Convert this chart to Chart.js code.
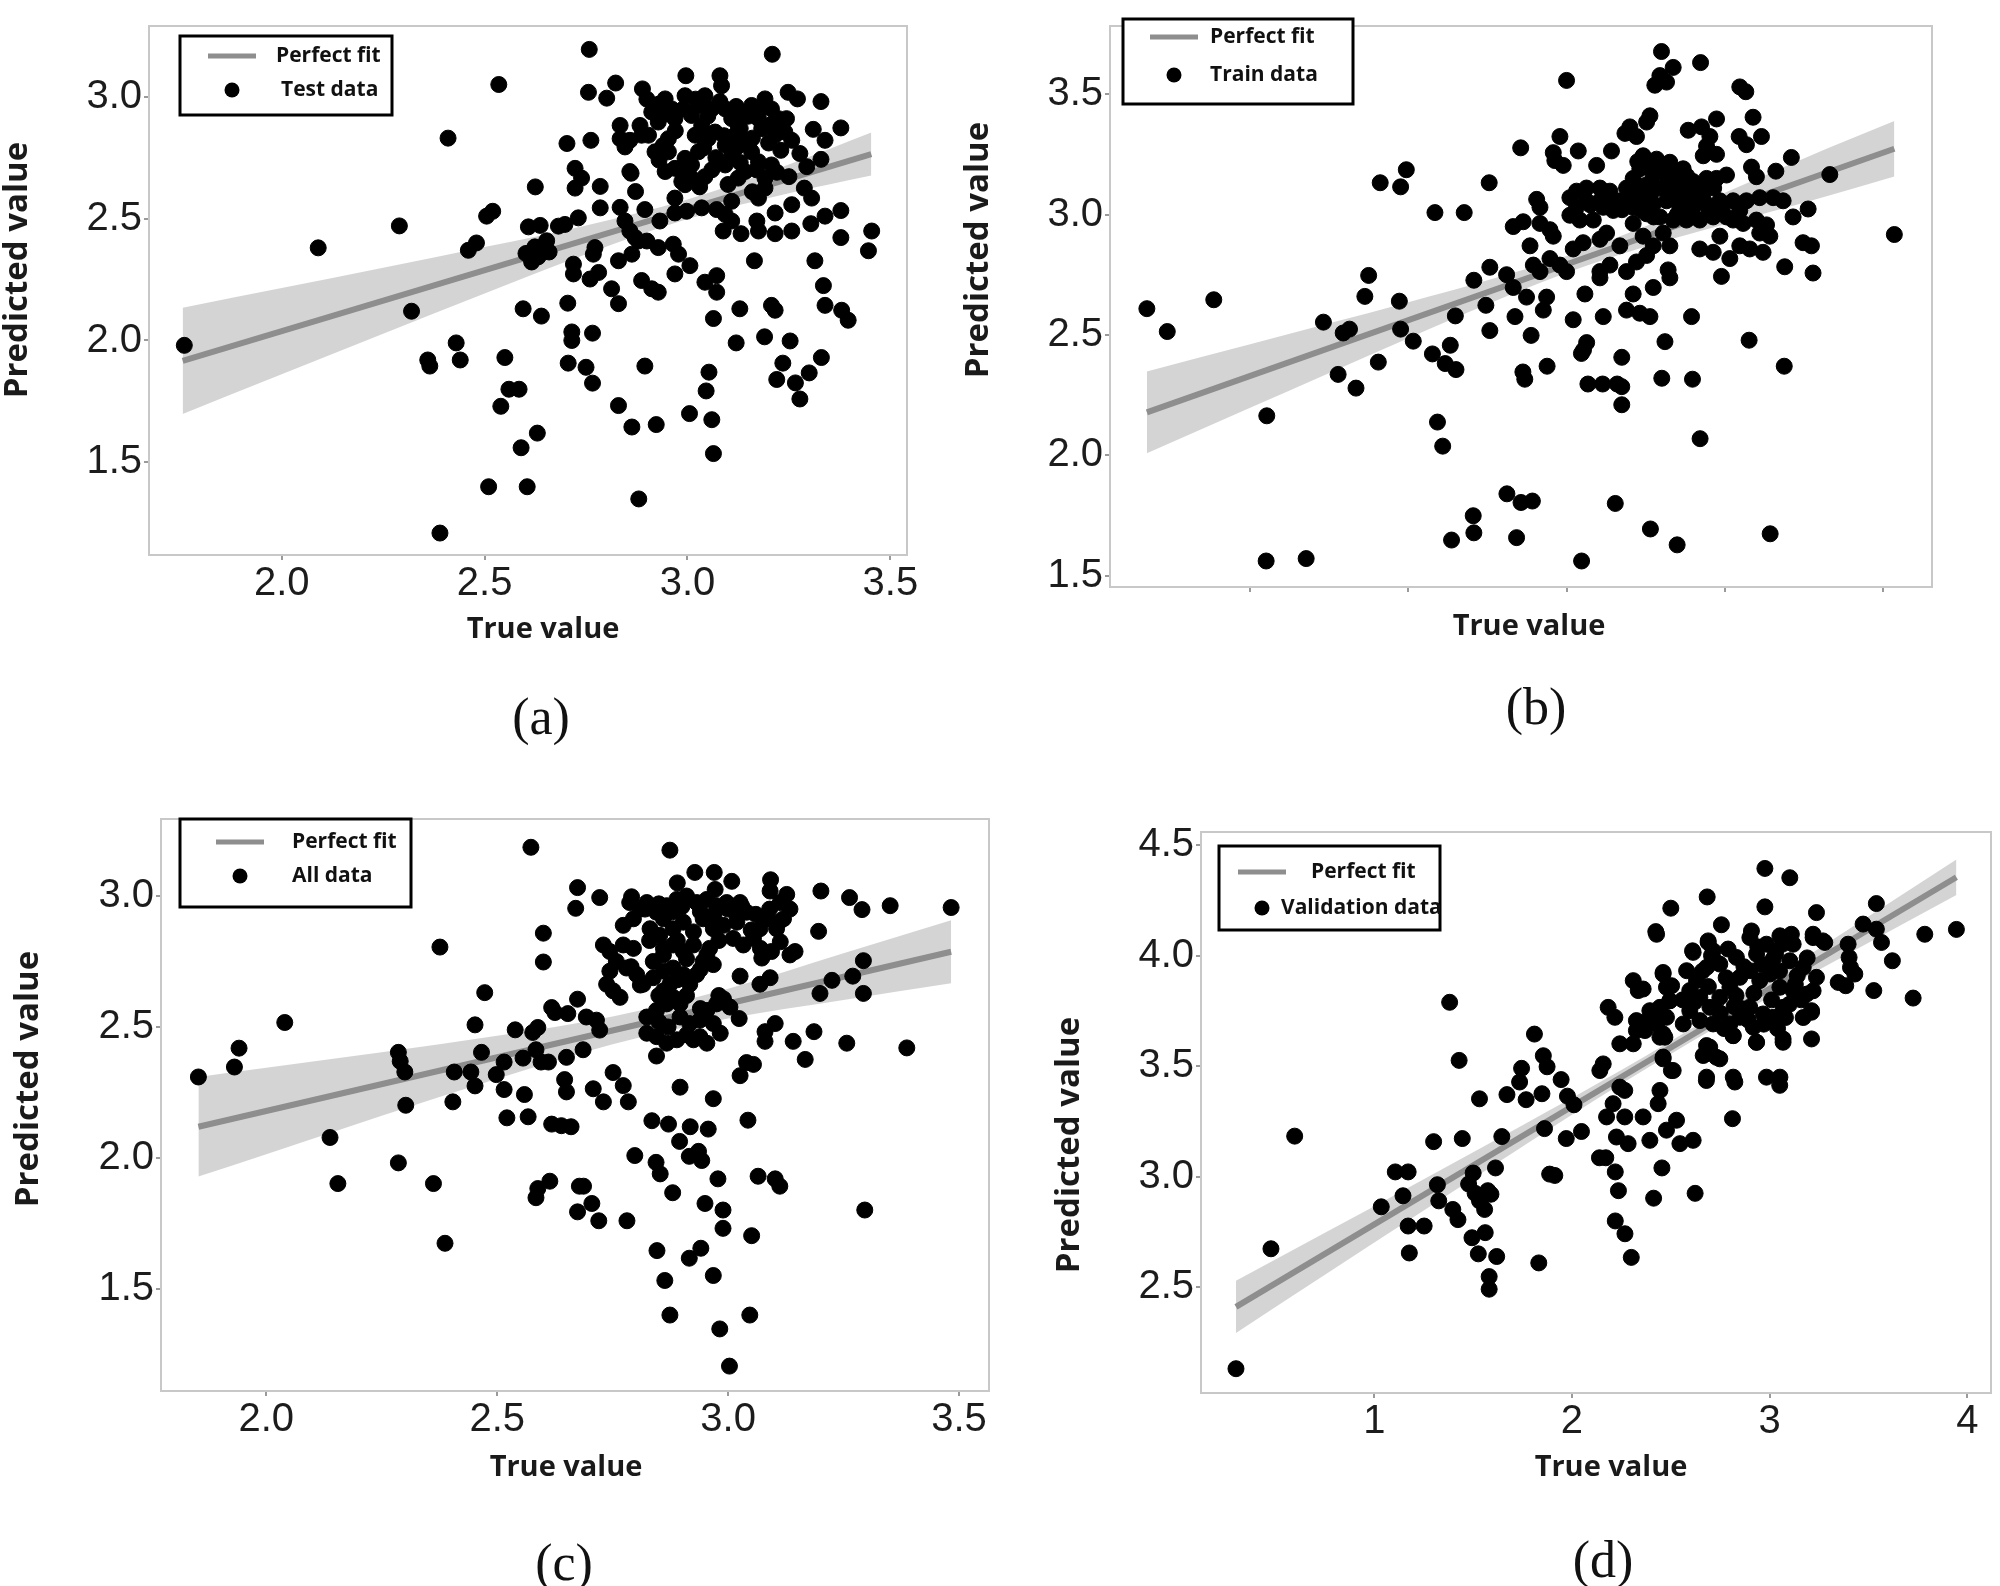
<!DOCTYPE html>
<html>
<head>
<meta charset="utf-8">
<title>Predicted vs true value</title>
<script src="https://cdn.jsdelivr.net/npm/chart.js@4.4.1/dist/chart.umd.min.js"></script>
<style>
    body { margin: 0; background: #fff; }
    #page { position: relative; width: 2000px; height: 1586px; overflow: hidden; }
    .panel { position: absolute; }
    .cap {
        position: absolute;
        font-family: "Liberation Serif", "Times New Roman", serif;
        font-size: 52px;
        color: #111;
        transform: translate(-50%, -50%);
    }
</style>
</head>
<body>
<div id="page">
    <canvas class="panel" id="chart-a" width="950" height="793" style="left:0;top:0"></canvas>
    <canvas class="panel" id="chart-b" width="1050" height="793" style="left:950px;top:0"></canvas>
    <canvas class="panel" id="chart-c" width="1000" height="793" style="left:0;top:793px"></canvas>
    <canvas class="panel" id="chart-d" width="1000" height="793" style="left:1000px;top:793px"></canvas>
    <div class="cap" style="left:541px;top:716px">(a)</div>
    <div class="cap" style="left:1536px;top:706px">(b)</div>
    <div class="cap" style="left:564px;top:1562px">(c)</div>
    <div class="cap" style="left:1603px;top:1559px">(d)</div>
</div>
<script>
// (a) Test data  [true, predicted]
const testData = [
    [1.76,1.98],[2.09,2.38],[2.29,2.47],[2.32,2.12],[2.41,2.83],[2.36,1.92],[2.365,1.895],[2.43,1.99],[2.44,1.92],[2.46,2.37],
    [2.48,2.40],[2.505,2.51],[2.52,2.53],[2.535,3.05],[2.55,1.93],[2.56,1.80],[2.585,1.80],[2.54,1.73],[2.51,1.40],[2.605,1.40],
    [2.59,1.56],[2.63,1.62],[2.39,1.21],[2.88,1.35],[2.595,2.13],[2.64,2.10],[2.625,2.63],
    [2.602,2.357],[2.616,2.322],[2.624,2.384],[2.637,2.472],[2.653,2.409],[2.659,2.363],[2.608,2.466],[2.632,2.343],
    [2.715,2.035],[2.715,2.0],[2.706,1.907],[2.75,1.89],[2.766,1.825],[2.766,2.03],[2.83,1.733],[2.863,1.645],[2.923,1.655],[2.895,1.895],
    [3.005,1.70],[3.06,1.675],[3.064,1.536],[3.053,1.87],[3.046,1.793],[3.12,1.99],[3.19,2.015],[3.22,1.84],[3.235,1.907],[3.253,1.998],
    [3.266,1.826],[3.277,1.76],[3.30,1.867],[3.33,1.93],
    [2.758,3.194],[3.209,3.174],[2.756,3.018],[2.823,3.056],[2.801,2.994],[2.889,3.032],[2.996,3.086],[3.080,3.086],[3.084,3.045],[3.248,3.018],
    [3.271,2.991],[3.329,2.98],[3.378,2.872],[3.310,2.866],[3.339,2.821],[3.329,2.743],[3.294,2.713],[3.277,2.767],[3.257,2.821],[3.244,2.910],
    [3.25,2.672],[3.288,2.625],[3.306,2.584],[3.378,2.533],[3.339,2.51],[3.304,2.479],[3.257,2.557],[3.257,2.449],[3.216,2.523],[3.216,2.438],
    [3.175,2.449],[3.171,2.49],[3.132,2.438],[3.109,2.49],[3.088,2.449],[3.109,2.571],[3.035,2.544],[3.072,2.537],[3.093,2.517],[2.969,2.523],
    [2.998,2.53],[2.932,2.49],[2.895,2.537],[2.872,2.611],[2.861,2.686],[2.834,2.546],[2.846,2.49],[2.858,2.449],[2.871,2.422],[2.9,2.408],
    [2.928,2.381],[2.965,2.395],[2.978,2.354],[3.006,2.307],[2.969,2.273],[3.043,2.239],[3.072,2.266],[3.072,2.198],[2.83,2.327],[2.863,2.354],
    [2.879,2.408],[2.887,2.246],[2.912,2.212],[2.928,2.198],[2.813,2.212],[2.83,2.151],[2.772,2.381],[2.768,2.354],[2.719,2.313],[2.719,2.273],
    [2.76,2.252],[2.781,2.279],[2.705,2.153],[2.682,2.469],[2.698,2.476],[2.731,2.503],[2.785,2.544],[2.785,2.632],[2.723,2.706],[2.739,2.666],
    [2.723,2.625],[2.703,2.808],[2.762,2.821],[2.834,2.882],[2.834,2.828],[2.846,2.794],[2.858,2.821],[2.858,2.693],[2.883,2.882],[3.454,2.449],
    [3.446,2.368],[3.378,2.422],[3.314,2.327],[3.335,2.225],[3.339,2.144],[3.38,2.124],[3.396,2.083],[3.165,2.327],[3.207,2.144],[3.216,2.124],
    [3.129,2.13],[3.064,2.09],
    [2.920,2.964],[2.912,2.937],[2.945,2.991],[2.961,2.950],[2.928,2.896],[2.904,2.842],[2.920,2.774],[2.953,2.828],[2.969,2.910],[2.994,3.004],
    [3.027,2.964],[3.010,2.923],[3.043,3.004],[3.060,2.950],[3.035,2.882],[3.068,2.855],[3.051,2.828],[3.019,2.842],[3.093,2.950],[3.109,2.910],
    [3.125,2.882],[3.117,2.842],[3.142,2.937],[3.158,2.964],[3.175,2.910],[3.191,2.991],[3.207,2.950],[3.224,2.910],[3.240,2.855],[3.216,2.842],
    [3.183,2.869],[2.945,2.693],[2.969,2.706],[2.994,2.747],[3.010,2.720],[2.986,2.652],[3.010,2.666],[3.043,2.672],[3.027,2.774],[3.093,2.720],
    [3.109,2.761],[3.125,2.666],[3.142,2.693],[3.158,2.774],[3.175,2.733],[3.191,2.666],[3.207,2.720],[3.191,2.625],[3.175,2.584],[3.134,2.828],
    [3.150,2.801],[3.093,2.801],[2.953,2.774],[2.887,2.842],[2.969,2.584],[2.994,2.639],
    [2.93,2.97],[2.95,2.93],[2.99,2.95],[3.02,2.99],[3.05,2.92],[3.08,2.98],[3.12,2.96],[3.15,2.92],[3.18,2.95],[3.21,2.89],
    [3.13,2.87],[3.09,2.84],[3.04,2.79],[2.97,2.86],[2.94,2.8],[3.07,2.75],[3.12,2.79],[3.16,2.83],[3.2,2.81],[3.23,2.78],
    [3.17,2.7],[3.13,2.73],[3.06,2.7],[2.99,2.69],[2.93,2.74],[3.03,2.63],[3.1,2.64],[3.16,2.61],[3.22,2.69],[2.9,2.99]
]
const testFitX = [1.756, 3.453]
const testFitY = [1.916, 2.764]
const testBandX = [1.756, 2.0, 2.25, 2.5, 2.75, 3.0, 3.25, 3.453]
const testBandUpper = [2.134, 2.215, 2.298, 2.383, 2.472, 2.578, 2.722, 2.853]
const testBandLower = [1.698, 1.861, 2.028, 2.193, 2.354, 2.498, 2.604, 2.677]
const testXTicks = [2.0, 2.5, 3.0, 3.5]
const testYTicks = [1.5, 2.0, 2.5, 3.0]

// (b) Train data (x axis carries tick marks only, no labels)
const trainData = [
    [0.347,2.609],[0.476,2.514],[0.77,2.646],[1.105,2.164],[1.101,1.561],[1.354,1.571],[1.463,2.553],[1.556,2.336],[1.588,2.508],[1.628,2.524],
    [1.669,2.279],[1.725,2.66],[1.749,2.747],[1.81,2.387],[1.822,3.132],[1.951,3.115],[1.987,3.186],[1.943,2.64],[1.951,2.524],[2.031,2.474],
    [2.168,3.008],[2.152,2.421],[2.233,2.381],[2.301,2.356],[2.265,2.457],[2.297,2.579],[2.184,2.138],[2.217,2.038],[2.353,3.008],[2.414,2.727],
    [2.515,2.781],[2.49,2.623],[2.515,2.518],[2.511,3.132],[2.273,1.648],[2.41,1.749],[2.414,1.678],[2.623,1.84],[2.712,1.804],[2.784,1.81],
    [2.684,1.658],[2.724,2.346],[2.736,2.316],[2.776,2.498],[2.877,2.37],[3.094,2.423],[3.127,2.468],[3.107,2.437],[3.135,2.296],[3.228,2.296],
    [3.32,2.296],[3.349,2.285],[3.349,2.21],[3.308,1.80],[3.095,1.561],[3.349,2.407],[3.602,2.32],[3.622,2.472],[3.53,1.694],[3.699,1.628],
    [3.796,2.316],[3.844,2.069],[4.154,2.478],[4.376,2.37],[4.287,1.674],[5.072,2.917],
    [3.484,3.244],[3.569,3.230],[3.653,3.217],[3.737,3.190],[3.463,3.190],[3.548,3.164],[3.632,3.164],[3.716,3.137],[3.800,3.137],[3.506,3.124],
    [3.590,3.110],[3.674,3.097],[3.758,3.083],[3.842,3.097],[3.885,3.150],[3.948,3.150],[4.011,3.164],[3.421,3.150],[3.379,3.110],[3.463,3.070],
    [3.548,3.043],[3.632,3.057],[3.716,3.030],[3.800,3.030],[3.885,3.043],[3.969,3.057],[4.053,3.057],[4.095,3.017],[4.011,2.990],[3.927,2.990],
    [3.842,2.977],[3.758,2.977],[3.674,2.977],[3.590,2.990],[3.506,3.003],[3.421,3.030],[3.337,3.057],[3.274,3.097],[3.211,3.110],[3.126,3.110],
    [3.063,3.097],[3.021,3.070],[3.063,3.030],[3.126,3.057],[3.211,3.057],[3.295,3.017],[3.021,2.997],[3.084,2.977],[3.169,2.977],[3.232,3.030],
    [2.811,3.063],[2.832,3.030],[2.663,2.950],[2.726,2.970],[2.832,2.963],[2.895,2.937],[2.916,2.910],[2.769,2.870],[2.790,2.790],[2.895,2.817],
    [2.958,2.790],[2.832,2.763],[3.000,2.763],[3.042,2.857],[3.105,2.883],[3.211,2.897],[3.253,2.923],[3.337,2.870],[3.421,2.963],[3.484,2.910],
    [3.548,2.870],[3.611,2.923],[3.653,2.870],[3.506,2.830],[3.442,2.803],[3.379,2.763],[3.211,2.763],[3.274,2.790],[3.211,2.737],[3.642,2.770],
    [3.653,2.737],[2.621,2.750],[2.663,2.697],[2.747,2.657],[2.874,2.657],[2.853,2.603],[2.674,2.576],[3.042,2.563],[3.116,2.670],[3.232,2.576],
    [3.421,2.670],[3.379,2.603],[3.463,2.590],[3.527,2.576],[3.548,2.697],[3.790,2.576],[3.842,2.857],[3.927,2.843],[3.969,2.910],[4.032,2.817],
    [3.979,2.743],[4.095,2.870],[4.137,3.057],[4.221,3.070],[4.306,3.070],[4.369,3.057],[4.432,2.990],[4.527,3.023],[4.200,2.977],[4.264,2.957],
    [4.221,2.923],[4.285,2.910],[4.158,2.857],[4.242,2.843],[4.495,2.883],[4.548,2.870],[4.379,2.783],[4.558,2.757],[4.053,2.977],[4.116,2.963],
    [3.600,3.677],[3.674,3.611],[3.847,3.631],[3.590,3.577],[3.558,3.537],[3.632,3.550],[3.000,3.557],[4.095,3.530],[4.133,3.510],[3.527,3.410],
    [3.506,3.384],[3.400,3.364],[3.369,3.337],[3.442,3.324],[3.769,3.350],[3.853,3.364],[3.948,3.397],[3.906,3.324],[3.885,3.284],[3.864,3.244],
    [3.948,3.250],[4.179,3.404],[4.091,3.324],[4.137,3.290],[4.232,3.324],[2.958,3.324],[2.916,3.257],[2.979,3.204],[2.926,3.224],[3.074,3.264],
    [2.710,3.277],[3.284,3.264],[3.190,3.204],[4.421,3.237],[4.323,3.180],[4.169,3.197],[4.200,3.157],[4.664,3.166],
    [3.45,3.22],[3.52,3.2],[3.6,3.19],[3.68,3.17],[3.76,3.16],[3.83,3.12],[3.46,3.1],[3.53,3.08],[3.7,3.07],[3.78,3.05],
    [3.86,3.07],[3.9,3.01],[3.47,3.02],[3.55,2.99],[3.7,3.0],[3.8,2.99],[3.64,3.13],[3.72,3.1],[3.4,3.08],[3.35,3.02],
    [3.25,3.06],[3.15,3.04],[3.93,3.11],[3.98,3.02]
]
const trainFitX = [0.347, 5.072]
const trainFitY = [2.178, 3.273]
const trainBandX = [0.347, 1, 1.5, 2, 2.5, 3, 3.5, 4, 4.5, 5.072]
const trainBandUpper = [2.348, 2.461, 2.548, 2.636, 2.727, 2.828, 2.951, 3.090, 3.233, 3.388]
const trainBandLower = [2.008, 2.197, 2.342, 2.486, 2.627, 2.758, 2.867, 2.960, 3.049, 3.158]
const trainXTicks = [1, 2, 3, 4, 5]
const trainYTicks = [1.5, 2.0, 2.5, 3.0, 3.5]

// (c) All data
const allData = [
    [1.853,2.309],[1.931,2.347],[1.941,2.419],[2.04,2.517],[2.138,2.078],[2.155,1.902],[2.286,1.981],[2.286,2.403],[2.29,2.369],[2.30,2.328],
    [2.302,2.201],[2.362,1.902],[2.376,2.805],[2.387,1.674],[2.404,2.214],[2.407,2.328],[2.443,2.328],[2.452,2.275],[2.452,2.508],[2.466,2.403],
    [2.473,2.631],[2.498,2.318],[2.515,2.366],[2.515,2.261],[2.521,2.153],[2.539,2.489],[2.559,2.242],[2.567,2.157],[2.556,2.381],[2.577,2.479],
    [2.588,2.498],[2.584,2.413],[2.595,2.366],[2.611,2.366],[2.573,3.186],[2.584,1.848],[2.588,1.883],[2.60,2.858],[2.60,2.748],[2.614,1.911],
    [2.618,2.574],[2.625,2.555],[2.618,2.129],[2.639,2.123],[2.66,2.119],[2.646,2.299],[2.65,2.252],[2.653,2.551],[2.65,2.384],[2.678,1.892],
    [2.687,1.892],[2.674,1.794],[2.674,3.032],[2.67,2.953],[2.674,2.606],
    [2.705,1.826],[2.72,1.76],[2.781,1.76],[2.798,2.009],[2.835,2.142],[2.844,1.983],[2.853,1.939],[2.846,1.646],[2.863,1.532],[2.874,1.40],
    [2.871,2.129],[2.88,1.867],[2.895,2.063],[2.918,2.119],[2.916,2.006],[2.936,2.025],[2.943,1.99],[2.916,1.617],[2.941,1.655],[2.95,1.826],
    [2.957,2.11],[2.968,1.551],[2.978,1.92],[2.982,1.347],[2.989,1.801],[2.989,1.731],[3.003,1.205],[3.047,1.40],[3.051,1.703],[3.043,2.144],
    [3.065,1.93],[3.102,1.92],[3.112,1.892],[3.296,1.801],[3.483,2.956],
    [2.874,3.175],[2.928,3.09],[2.97,3.09],[3.008,3.056],[2.89,3.05],[2.972,3.025],[3.092,3.062],[3.091,3.019],[3.127,3.006],[3.201,3.019],
    [3.263,2.994],[3.29,2.948],[3.351,2.963],[3.196,2.865],[3.293,2.753],[3.225,2.678],[3.27,2.694],[3.293,2.628],[3.199,2.628],[3.387,2.42],
    [3.257,2.438],[3.186,2.482],[3.141,2.445],[3.167,2.376],[3.102,2.513],[3.08,2.482],[3.08,2.445],[3.04,2.364],[3.055,2.357],[3.026,2.314],
    [3.024,2.532],[2.968,2.226],[2.896,2.27],
    [2.693,2.538],[2.715,2.526],[2.722,2.488],[2.686,2.413],[2.751,2.326],[2.773,2.276],[2.708,2.264],[2.730,2.214],[2.784,2.214],[2.845,2.389],
    [2.824,2.476],[2.845,2.463],[2.867,2.438],[2.889,2.451],[2.896,2.538],[2.917,2.513],[2.939,2.526],[2.954,2.563],[2.968,2.513],[2.983,2.476],
    [2.939,2.463],[2.954,2.438],[2.925,2.451],[2.824,2.538],[2.845,2.563],[2.867,2.588],[2.881,2.613],[2.896,2.588],[2.860,2.638],[2.874,2.663],
    [2.838,2.688],[2.860,2.713],[2.881,2.725],[2.903,2.700],[2.917,2.663],[2.932,2.700],[2.946,2.750],[2.968,2.738],[2.954,2.775],[2.730,2.813],
    [2.744,2.788],[2.758,2.750],[2.744,2.713],[2.737,2.663],[2.751,2.638],[2.766,2.613],[2.780,2.725],[2.802,2.700],[2.816,2.663],[2.773,2.813],
    [2.795,2.800],[2.773,2.888],[2.795,2.913],[2.809,2.950],[2.787,2.975],[2.824,2.975],[2.845,2.938],[2.867,2.963],[2.889,2.987],[2.910,3.000],
    [2.932,2.975],[2.954,2.987],[2.975,2.963],[2.997,2.975],[3.019,2.925],[2.860,2.913],[2.881,2.875],[2.903,2.900],[2.925,2.863],[2.946,2.913],
    [2.968,2.875],[2.990,2.888],[2.831,2.875],[2.852,2.850],[2.881,2.813],[2.903,2.788],[2.925,2.813],[2.860,2.775],[2.838,2.750],[2.722,2.994],
    [2.791,2.997],[2.990,2.607],[3.026,2.694],[3.004,2.576],[2.975,2.588],
    [3.105,2.875],[3.120,2.913],[3.134,2.950],[3.113,2.975],[3.084,2.913],[3.069,2.875],[3.055,2.838],[3.033,2.813],[3.011,2.838],[3.019,2.900],
    [3.004,2.963],[3.026,2.975],[3.040,2.938],[3.073,2.763],[3.094,2.788],[3.113,2.825],[3.134,2.775],[3.145,2.788],[3.069,2.663],[3.091,2.688],
    [2.82,2.95],[2.85,2.97],[2.88,2.94],[2.9,2.96],[2.94,2.94],[2.97,2.93],[3.0,2.95],[3.03,2.96],[3.06,2.93],[3.09,2.95],
    [3.11,2.9],[2.83,2.83],[2.86,2.8],[2.89,2.83],[2.91,2.76],[2.94,2.72],[2.96,2.8],[2.98,2.83],[3.05,2.87],[3.07,2.8],
    [2.79,2.73],[2.81,2.66],[2.85,2.62],[2.89,2.68],[2.91,2.62],[2.94,2.57],[2.98,2.62],[2.87,2.5],[2.91,2.47],[2.85,2.52]
]
const allFitX = [1.853, 3.483]
const allFitY = [2.119, 2.787]
const allBandX = [1.853, 2.0, 2.25, 2.5, 2.75, 3.0, 3.25, 3.483]
const allBandUpper = [2.309, 2.344, 2.403, 2.466, 2.540, 2.646, 2.781, 2.907]
const allBandLower = [1.929, 2.014, 2.161, 2.302, 2.434, 2.532, 2.603, 2.667]
const allXTicks = [2.0, 2.5, 3.0, 3.5]
const allYTicks = [1.5, 2.0, 2.5, 3.0]

// (d) Validation data
const validationData = [
    [0.30,2.13],[0.477,2.673],[0.597,3.183],[1.035,2.863],[1.106,3.021],[1.171,3.021],[1.145,2.913],[1.171,2.776],[1.177,2.654],[1.252,2.776],
    [1.30,3.158],[1.319,2.963],[1.326,2.89],[1.381,3.789],[1.397,2.851],[1.423,2.805],[1.429,3.526],[1.445,3.172],[1.477,2.966],[1.50,3.016],
    [1.494,2.723],[1.51,2.924],[1.532,2.89],[1.558,2.851],[1.574,2.936],[1.526,2.65],[1.532,3.352],[1.561,2.746],[1.581,2.547],[1.581,2.49],
    [1.59,2.92],[1.613,3.039],[1.619,2.638],[1.645,3.181],[1.671,3.371],[1.735,3.428],[1.745,3.49],[1.768,3.348],[1.81,3.645],[1.832,2.609],
    [1.855,3.547],[1.874,3.497],[1.848,3.375],[1.861,3.217],[1.887,3.011],[1.913,3.005],[1.945,3.439],[1.977,3.364],[1.971,3.172],[2.01,3.325],
    [2.048,3.204],[2.139,3.085],[2.171,3.085],[2.219,3.021],[2.235,2.936],[2.219,2.799],[2.268,2.741],[2.30,2.634],[2.413,2.902],[2.455,3.039],
    [2.623,2.924],[3.945,4.119],
    [2.976,4.395],[3.102,4.353],[2.684,4.266],[2.976,4.221],[2.50,4.215],[3.237,4.195],[3.54,4.236],[2.424,4.109],[2.756,4.14],[3.785,4.097],
    [3.473,4.143],[3.54,4.12],[3.566,4.06],[3.621,3.977],[3.527,3.842],[3.726,3.808],[3.397,4.052],[3.402,3.992],[3.409,3.947],[3.431,3.917],
    [3.347,3.879],[3.385,3.864],[3.22,4.097],[3.27,4.067],[3.11,4.097],[3.065,4.052],[2.908,4.112],[2.689,4.067],[2.714,4.022],[2.61,4.022],
    [2.428,4.097],[2.689,4.060],[2.613,4.015],[2.706,4.000],[2.790,4.030],[2.900,4.082],[2.984,4.052],[3.052,4.090],[3.119,4.052],[3.220,4.082],
    [3.279,4.060],[2.461,3.924],[2.504,3.864],[2.580,3.932],[2.630,3.887],[2.681,3.947],[2.748,3.962],[2.832,3.992],[2.934,4.007],[3.018,3.985],
    [3.102,3.977],[3.170,3.947],[3.237,3.902],[2.360,3.849],[2.445,3.766],[2.495,3.796],[2.394,3.721],[2.369,3.661],[2.428,3.691],[2.470,3.631],
    [2.563,3.691],[2.596,3.842],[2.647,3.811],[2.698,3.766],[2.748,3.811],[2.799,3.857],[2.849,3.902],[2.900,3.932],[2.950,3.887],[3.001,3.917],
    [3.052,3.857],[3.119,3.841],[3.187,3.826],[3.220,3.841],[3.068,3.766],[3.018,3.721],[2.967,3.736],[2.900,3.766],[2.849,3.721],[2.799,3.691],
    [2.714,3.691],[2.647,3.706],[2.596,3.751],[2.917,3.676],[2.816,3.638],[2.934,3.608],[3.068,3.623],[3.212,3.751],[3.212,3.623],[2.681,3.593],
    [2.664,3.548],[2.731,3.540],[2.461,3.533],[2.512,3.480],[2.681,3.450],[2.816,3.450],[2.984,3.450],[3.052,3.450],
    [2.87,3.95],[2.96,3.96],[3.05,3.93],[3.14,3.91],[2.78,3.9],[2.69,3.86],[2.83,3.82],[2.92,3.83],[3.01,3.8],[3.1,3.78],
    [3.17,3.72],[2.75,3.74],[2.86,3.76],[2.97,3.69],[3.04,3.67],[2.89,3.71],[2.62,3.79],[2.77,3.67],[3.13,3.87],[2.94,4.04],
    [3.03,4.01],[2.73,3.97],[3.19,3.99],[2.66,3.93],[2.56,3.8],[3.16,3.8],[3.08,3.72],[2.82,3.77],
    [3.212,3.744],[3.068,3.608],[2.933,3.608],[2.815,3.638],[2.697,3.586],[2.68,3.556],[2.748,3.533],[2.68,3.435],[2.824,3.428],
    [3.051,3.413],[2.812,3.262],[2.461,3.541],[2.503,3.48],[2.326,3.706],[2.445,3.759],[2.478,3.721],[2.461,3.917],[2.478,3.857],
    [2.495,3.796],[2.31,3.887],[2.335,3.842],[2.394,3.751],[2.428,3.691],[2.326,3.661],[2.31,3.601],[2.242,3.601],[2.183,3.766],[2.217,3.721],
    [2.158,3.51],[2.141,3.48],[2.461,3.646],[2.445,3.631],[2.242,3.405],[2.267,3.39],[2.208,3.33],[2.445,3.39],[2.436,3.33],[2.175,3.27],
    [2.267,3.27],[2.36,3.27],[2.529,3.255],[2.478,3.21],[2.225,3.179],[2.284,3.149],[2.394,3.164],[2.546,3.149],[2.613,3.164]
]
const valFitX = [0.3, 3.945]
const valFitY = [2.41, 4.355]
const valBandX = [0.3, 0.75, 1.25, 1.75, 2.25, 2.75, 3.25, 3.945]
const valBandUpper = [2.528, 2.745, 2.988, 3.232, 3.482, 3.748, 4.032, 4.435]
const valBandLower = [2.292, 2.555, 2.846, 3.136, 3.420, 3.686, 3.936, 4.275]
const valXTicks = [1, 2, 3, 4]
const valYTicks = [2.5, 3.0, 3.5, 4.0, 4.5]



const toXY = pairs => pairs.map(([x, y]) => ({ x, y }))
const zip = (xs, ys) => xs.map((x, i) => ({ x, y: ys[i] }))

const FIT_GREY = '#8e8e8e'
const TICK_FONT = { family: '"Liberation Sans", Arial, sans-serif', size: 40 }
const TITLE_FONT = '"Open Sans", "DejaVu Sans", sans-serif'


// Plot frame, axis titles and the boxed legend
const panelDecor = {
    id: 'panelDecor',
    beforeDatasetsDraw(chart) {
        const { ctx, chartArea: a } = chart
        ctx.save()
        ctx.strokeStyle = '#c8c8c8'
        ctx.lineWidth = 2
        ctx.strokeRect(a.left, a.top, a.right - a.left, a.bottom - a.top)
        ctx.restore()
    },
    afterDraw(chart, args, o) {
        const { ctx } = chart
        const points = chart.data.datasets[0]
        const fit = chart.data.datasets[1]

        ctx.save()
        ctx.fillStyle = '#1a1a1a'
        ctx.textAlign = 'center'
        ctx.textBaseline = 'middle'
        ctx.font = `bold 29px ${TITLE_FONT}`
        ctx.fillText(o.xText, o.xTitle[0], o.xTitle[1])
        ctx.font = `bold 33px ${TITLE_FONT}`
        ctx.translate(o.yTitle[0], o.yTitle[1])
        ctx.rotate(-Math.PI / 2)
        ctx.fillText(o.yText, 0, 0)
        ctx.restore()

        const [bx, by, bw, bh] = o.box
        ctx.save()
        ctx.fillStyle = '#fff'
        ctx.fillRect(bx, by, bw, bh)
        ctx.strokeStyle = '#000'
        ctx.lineWidth = 3
        ctx.strokeRect(bx, by, bw, bh)

        ctx.strokeStyle = fit.borderColor
        ctx.lineWidth = 5
        ctx.beginPath()
        ctx.moveTo(o.symX - 24, o.rowY[0])
        ctx.lineTo(o.symX + 24, o.rowY[0])
        ctx.stroke()

        ctx.fillStyle = points.backgroundColor
        ctx.beginPath()
        ctx.arc(o.symX, o.rowY[1], 7.5, 0, Math.PI * 2)
        ctx.fill()

        ctx.fillStyle = '#111'
        ctx.font = `bold 21px ${TITLE_FONT}`
        ctx.textAlign = 'left'
        ctx.textBaseline = 'middle'
        ctx.fillText(fit.label, o.textX[0], o.rowY[0])
        ctx.fillText(points.label, o.textX[1], o.rowY[1])
        ctx.restore()
    }
}


const buildPanel = (id, p) => {
    return new Chart(document.getElementById(id), {
        type: 'scatter',
        data: {
            datasets: [
                {
                    label: p.name,
                    data: toXY(p.points),
                    backgroundColor: '#000',
                    borderColor: '#000',
                    pointRadius: 8,
                    pointHoverRadius: 8
                },
                {
                    type: 'line',
                    label: 'Perfect fit',
                    data: zip(p.fitX, p.fitY),
                    borderColor: FIT_GREY,
                    borderWidth: 6,
                    pointRadius: 0,
                    fill: false
                },
                {
                    type: 'line',
                    label: 'band upper',
                    data: zip(p.bandX, p.bandUpper),
                    borderColor: 'rgba(0,0,0,0)',
                    borderWidth: 0,
                    pointRadius: 0,
                    cubicInterpolationMode: 'monotone',
                    fill: false
                },
                {
                    type: 'line',
                    label: 'band lower',
                    data: zip(p.bandX, p.bandLower),
                    borderColor: 'rgba(0,0,0,0)',
                    borderWidth: 0,
                    pointRadius: 0,
                    cubicInterpolationMode: 'monotone',
                    fill: '-1',
                    backgroundColor: 'rgba(198,198,198,0.75)'
                }
            ]
        },
        options: {
            responsive: false,
            animation: false,
            devicePixelRatio: 1,
            layout: { padding: p.padding },
            plugins: {
                legend: { display: false },
                tooltip: { enabled: false },
                panelDecor: {
                    box: p.box, symX: p.symX, rowY: p.rowY, textX: p.textX,
                    xTitle: p.xTitle, yTitle: p.yTitle, xText: 'True value', yText: 'Predicted value'
                }
            },
            scales: {
                x: {
                    type: 'linear',
                    min: p.xRange[0],
                    max: p.xRange[1],
                    afterBuildTicks: s => { s.ticks = p.xTicks.map(v => ({ value: v })) },
                    afterFit: s => { s.height = p.xAxisH },
                    grid: { drawOnChartArea: false, drawTicks: true, tickLength: 5, color: '#9a9a9a', lineWidth: 2 },
                    border: { display: false },
                    ticks: { color: '#1c1c1c', font: TICK_FONT, padding: 0, maxRotation: 0, autoSkip: false, callback: p.xLabel }
                },
                y: {
                    type: 'linear',
                    min: p.yRange[0],
                    max: p.yRange[1],
                    afterBuildTicks: s => { s.ticks = p.yTicks.map(v => ({ value: v })) },
                    afterFit: s => { s.width = p.yAxisW },
                    grid: { drawOnChartArea: false, drawTicks: true, tickLength: 5, color: '#9a9a9a', lineWidth: 2 },
                    border: { display: false },
                    ticks: { color: '#1c1c1c', font: TICK_FONT, padding: 2, autoSkip: false, callback: v => v.toFixed(1) }
                }
            }
        },
        plugins: [panelDecor]
    })
}


window.addEventListener('load', () => {
    buildPanel('chart-a', {
        name: 'Test data', points: testData,
        fitX: testFitX, fitY: testFitY, bandX: testBandX, bandUpper: testBandUpper, bandLower: testBandLower,
        xTicks: testXTicks, yTicks: testYTicks, xLabel: v => v.toFixed(1),
        xRange: [1.673, 3.541], yRange: [1.12, 3.29],
        padding: { left: 0, top: 19, right: 43, bottom: 143 }, yAxisW: 149, xAxisH: 95,
        box: [180, 36, 212, 79], symX: 232, rowY: [56, 90], textX: [276, 281],
        xTitle: [543, 630], yTitle: [18, 270]
    })

    buildPanel('chart-b', {
        name: 'Train data', points: trainData,
        fitX: trainFitX, fitY: trainFitY, bandX: trainBandX, bandUpper: trainBandUpper, bandLower: trainBandLower,
        xTicks: trainXTicks, yTicks: trainYTicks, xLabel: () => '',
        xRange: [0.114, 5.31], yRange: [1.453, 3.783],
        padding: { left: 0, top: 5, right: 68, bottom: 146 }, yAxisW: 160, xAxisH: 60,
        box: [173, 19, 230, 85], symX: 224, rowY: [37, 75], textX: [260, 260],
        xTitle: [579, 627], yTitle: [29, 250]
    })

    buildPanel('chart-c', {
        name: 'All data', points: allData,
        fitX: allFitX, fitY: allFitY, bandX: allBandX, bandUpper: allBandUpper, bandLower: allBandLower,
        xTicks: allXTicks, yTicks: allYTicks, xLabel: v => v.toFixed(1),
        xRange: [1.772, 3.565], yRange: [1.11, 3.294],
        padding: { left: 0, top: 15, right: 11, bottom: 98 }, yAxisW: 161, xAxisH: 97,
        box: [180, 26, 231, 88], symX: 240, rowY: [49, 83], textX: [292, 292],
        xTitle: [566, 675], yTitle: [29, 286]
    })

    buildPanel('chart-d', {
        name: 'Validation data', points: validationData,
        fitX: valFitX, fitY: valFitY, bandX: valBandX, bandUpper: valBandUpper, bandLower: valBandLower,
        xTicks: valXTicks, yTicks: valYTicks, xLabel: v => String(v),
        xRange: [0.123, 4.12], yRange: [2.02, 4.56],
        padding: { left: 0, top: 39, right: 8, bottom: 98 }, yAxisW: 201, xAxisH: 95,
        box: [219, 53, 221, 84], symX: 262, rowY: [79, 115], textX: [311, 281],
        xTitle: [611, 675], yTitle: [70, 352]
    })
})
</script>
</body>
</html>
